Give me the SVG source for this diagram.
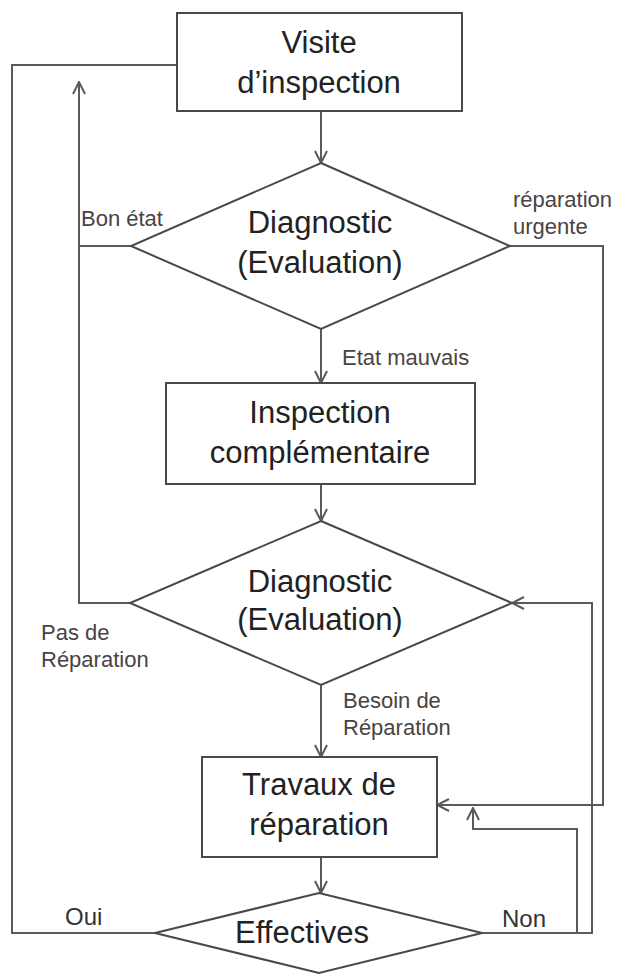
<svg xmlns="http://www.w3.org/2000/svg" width="622" height="976" viewBox="0 0 622 976">
<style>
.n { fill:#fff; stroke:#4d4747; stroke-width:2 }
.c { fill:none; stroke:#5e5858; stroke-width:2 }
.t { font-family:"Liberation Sans", Arial, sans-serif; font-size:31px; fill:#222; text-anchor:middle }
.l { font-family:"Liberation Sans", Arial, sans-serif; font-size:22px; fill:#4a4343 }
.y { font-family:"Liberation Sans", Arial, sans-serif; font-size:24px; fill:#333 }
</style>
<defs>
<marker id="ah" markerUnits="userSpaceOnUse" markerWidth="14" markerHeight="14" viewBox="-1 -1 14 14" refX="12" refY="6" orient="auto">
<path d="M0,0 L12,6 L0,12" fill="none" stroke="#5e5858" stroke-width="2"/>
</marker>
</defs>
<rect width="622" height="976" fill="#fff"/>
<g id="connectors">
<path class="c" d="M321,111 V163" marker-end="url(#ah)"/>
<path class="c" d="M321,329 V383" marker-end="url(#ah)"/>
<path class="c" d="M321,484 V521" marker-end="url(#ah)"/>
<path class="c" d="M321,685 V757" marker-end="url(#ah)"/>
<path class="c" d="M321,857 V893" marker-end="url(#ah)"/>
<path class="c" d="M131,246 H79"/>
<path class="c" d="M130,603 H79 V82" marker-end="url(#ah)"/>
<path class="c" d="M177,65 H12 V933 H155"/>
<path class="c" d="M510,246 H603 V805 H437" marker-end="url(#ah)"/>
<path class="c" d="M482,933 H592 V603 H512" marker-end="url(#ah)"/>
<path class="c" d="M577,933 V829 H473 V808" marker-end="url(#ah)"/>
<text class="l" x="81" y="226">Bon état</text>
<text class="l" x="513" y="207">réparation</text>
<text class="l" x="513" y="234">urgente</text>
<text class="l" x="342" y="365">Etat mauvais</text>
<text class="l" x="41" y="640">Pas de</text>
<text class="l" x="41" y="667">Réparation</text>
<text class="l" x="343" y="708">Besoin de</text>
<text class="l" x="343" y="735">Réparation</text>
<text class="y" x="65" y="925">Oui</text>
<text class="y" x="502" y="927">Non</text>
</g>
<g id="visite">
<rect class="n" x="177" y="13" width="285" height="98"/>
<text class="t" x="319" y="53">Visite</text>
<text class="t" x="319" y="93">d’inspection</text>
</g>
<g id="diagnostic1">
<polygon class="n" points="321,163 510,246 321,329 131,246"/>
<text class="t" x="320" y="233">Diagnostic</text>
<text class="t" x="320" y="273">(Evaluation)</text>
</g>
<g id="inspection">
<rect class="n" x="166" y="383" width="309" height="101"/>
<text class="t" x="320" y="423">Inspection</text>
<text class="t" x="320" y="463">complémentaire</text>
</g>
<g id="diagnostic2">
<polygon class="n" points="321,521 512,603 321,685 130,603"/>
<text class="t" x="320" y="592">Diagnostic</text>
<text class="t" x="320" y="630">(Evaluation)</text>
</g>
<g id="travaux">
<rect class="n" x="202" y="757" width="235" height="100"/>
<text class="t" x="319" y="795">Travaux de</text>
<text class="t" x="319" y="835">réparation</text>
</g>
<g id="effectives">
<polygon class="n" points="319,893 482,933 319,973 155,933"/>
<text class="t" x="302" y="943">Effectives</text>
</g>
</svg>
